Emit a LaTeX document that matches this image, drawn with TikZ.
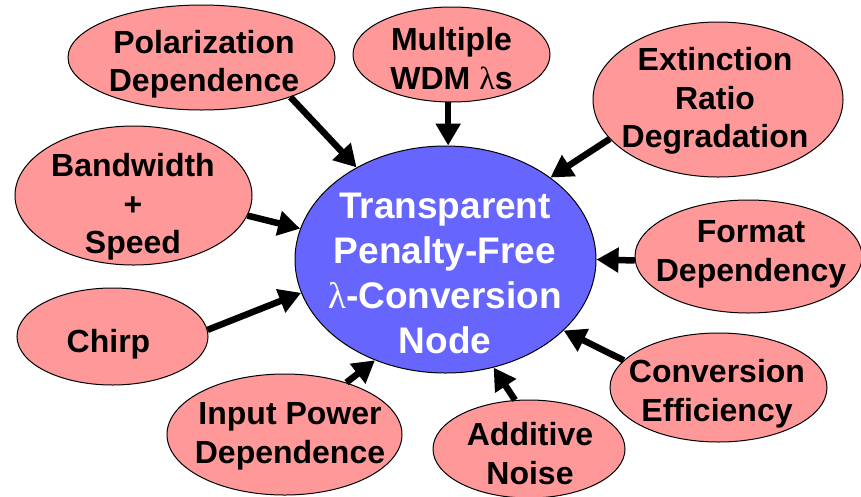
\documentclass[tikz,border=0pt]{standalone}
\usepackage{fontspec}
\setmainfont{Liberation Sans}
\newfontfamily\grk{Liberation Serif}
\newcommand{\lam}{{\grk\mdseries λ}}
\usetikzlibrary{shapes.geometric,arrows.meta}
\definecolor{salmon}{RGB}{255,153,153}
\definecolor{nodeblue}{RGB}{102,102,255}
\begin{document}
\begin{tikzpicture}[x=1pt,y=-1pt,
  bubble/.style={ellipse,draw=black,line width=1pt,fill=salmon,inner sep=0pt},
  hub/.style={ellipse,draw=black,line width=1pt,fill=nodeblue,inner sep=0pt},
  lbl/.style={align=center,font=\fontsize{32}{38.5}\selectfont\bfseries,inner sep=0pt},
  hublbl/.style={align=center,text=white,font=\fontsize{37}{45}\selectfont\bfseries,inner sep=0pt},
  arr/.style={line width=6.5pt,-{Triangle[length=22pt,width=24pt]}}]
\useasboundingbox (0,0) rectangle (861,496);
% ellipses
\node[hub,minimum width=301pt,minimum height=227pt] (ctr) at (445.5,259.5) {};
\node[bubble,minimum width=267pt,minimum height=105pt] (pol) at (201.5,57.5) {};
\node[bubble,minimum width=197pt,minimum height=95pt] (wdm) at (451.5,54.5) {};
\node[bubble,minimum width=250pt,minimum height=155pt] (ext) at (718,99.5) {};
\node[bubble,minimum width=237pt,minimum height=139pt] (bw) at (133.5,195.5) {};
\node[bubble,minimum width=227pt,minimum height=113pt] (fmt) at (748.5,256.5) {};
\node[bubble,minimum width=191pt,minimum height=97pt] (chirp) at (112.5,336.5) {};
\node[bubble,minimum width=235pt,minimum height=121pt] (inp) at (284.5,434.5) {};
\node[bubble,minimum width=192pt,minimum height=98pt] (noise) at (529,449) {};
\node[bubble,minimum width=217pt,minimum height=109pt] (conv) at (718.5,387.5) {};
% arrows
\draw[arr] (pol.336) -- (ctr.134);
\draw[arr] (wdm.266) -- (wdm.266 |- ctr.north);
\draw[arr] (ext.200) -- (ctr.38);
\draw[arr] (fmt.182) -- (ctr.0);
\draw[arr] (bw.350) -- (ctr.168);
\draw[arr] (chirp.4) -- (ctr.193);
\draw[arr] (inp.40) -- (ctr.235);
\draw[arr] (noise.106) -- (ctr.294);
\draw[arr] (conv.164) -- (ctr.329);
% labels
\node[hublbl] (ctrt) at (445,273) {Transparent\\Penalty-Free\\\lam-Conversion\\Node};
\node[lbl] (polt) at (204,64) {Polarization\\Dependence};
\node[lbl] (wdmt) at (451.5,58.5) {Multiple\\WDM \lam s};
\node[lbl] (extt) at (715,101) {Extinction\\Ratio\\Degradation};
\node[lbl] (bwt) at (133,207) {Bandwidth\\+\\Speed};
\node[lbl] (fmtt) at (751,254.5) {Format\\Dependency};
\node[lbl] (chirpt) at (108.5,344) {Chirp};
\node[lbl] (inpt) at (290,436.5) {Input Power\\Dependence};
\node[lbl] (noiset) at (530,453.5) {Additive\\Noise};
\node[lbl] (convt) at (717,393.5) {Conversion\\Efficiency};
\end{tikzpicture}
\end{document}
